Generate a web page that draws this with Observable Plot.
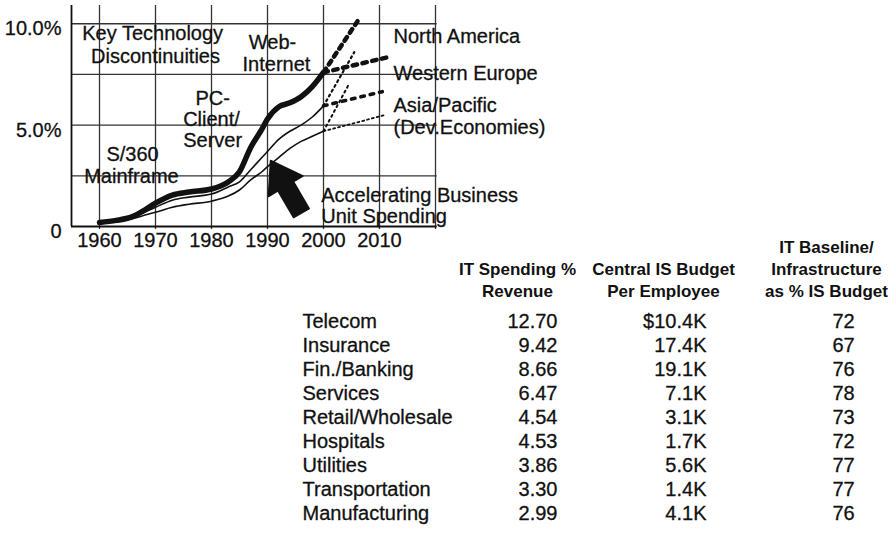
<!DOCTYPE html>
<html><head><meta charset="utf-8">
<script src="https://cdn.jsdelivr.net/npm/d3@7"></script>
<script src="https://cdn.jsdelivr.net/npm/@observablehq/plot@0.6"></script>
<style>
html,body{margin:0;padding:0;background:#fff;}
#wrap{position:relative;width:896px;height:540px;overflow:hidden;font-family:"Liberation Sans",Arial,sans-serif;}
#wrap svg{position:absolute;left:0;top:0;overflow:visible;background:transparent;}
</style></head><body><div id="wrap"></div>
<script>
// ---- line chart data (IT spending % of revenue) ----
const years     = [1960,1963,1966,1968,1970,1973,1976,1980,1983,1985,1987,1989,1990,1992,1994,1996,1998,2000];
const topSeries = [0.2,0.3,0.5,0.8,1.15,1.55,1.7,1.85,2.2,2.7,3.9,4.8,5.3,5.9,6.1,6.4,6.9,7.6];
const midSeries = [0.2,0.28,0.45,0.7,0.95,1.3,1.45,1.6,1.95,2.2,2.8,3.4,3.7,4.3,4.7,5.0,5.4,5.95];
const lowSeries = [0.2,0.26,0.4,0.55,0.7,0.95,1.1,1.25,1.5,1.8,2.3,2.7,2.95,3.4,3.85,4.2,4.45,4.7];

// projections 2000 -> ~2010
const naHigh = [[2000,7.6],[2006.5,10.3]];
const naLow  = [[2000,7.6],[2011.5,8.35]];
const weHigh = [[2000,5.95],[2005.5,8.6]];
const weLow  = [[2000,5.95],[2010.5,6.65]];
const apHigh = [[2000,4.7],[2004.5,7.0]];
const apLow  = [[2000,4.7],[2011,5.5]];

// axes
const xTicks = [1960,1970,1980,1990,2000,2010];
const vGrid  = [1960,1970,1980,1990,2000,2010,2020];
const hGrid  = [2.5,5,7.5,10];
const yTicks = [0,5,10];
const yTickLabels = ["0","5.0%","10.0%"];

// annotations (year, percent)
const centerLabels = [
  {label:"Key Technology", year:1969.5, pct:9.52},
  {label:"Discontinuities", year:1970.0, pct:8.38},
  {label:"Web-", year:1990.9, pct:9.05},
  {label:"Internet", year:1991.6, pct:7.99},
  {label:"PC-", year:1980.2, pct:6.33},
  {label:"Client/", year:1980.0, pct:5.28},
  {label:"Server", year:1980.2, pct:4.22},
  {label:"S/360", year:1965.9, pct:3.53},
  {label:"Mainframe", year:1965.7, pct:2.47}
];
const leftLabels = [
  {label:"North America", year:2012.5, pct:9.37},
  {label:"Western Europe", year:2012.5, pct:7.55},
  {label:"Asia/Pacific", year:2012.5, pct:5.95},
  {label:"(Dev.Economies)", year:2012.5, pct:4.88},
  {label:"Accelerating Business", year:1999.6, pct:1.54},
  {label:"Unit Spending", year:1999.6, pct:0.49}
];
const arrowShape = [[1990.54,3.255],[1996.32,2.49],[1994.64,2.21],[1997.45,0.88],[1994.66,0.44],[1991.86,1.76],[1990.16,1.48],[1990.54,3.255]];

// ---- table data ----
const industries = ["Telecom","Insurance","Fin./Banking","Services","Retail/Wholesale","Hospitals","Utilities","Transportation","Manufacturing"];
const itSpendPct = [12.70,9.42,8.66,6.47,4.54,4.53,3.86,3.30,2.99];
const budgetPerEmployee = [10.4,17.4,19.1,7.1,3.1,1.7,5.6,1.4,4.1];
const infraPct = [72,67,76,78,73,72,77,77,76];
const headers = ["IT Spending %\nRevenue","Central IS Budget\nPer Employee","IT Baseline/\nInfrastructure\nas % IS Budget"];

const FONT = "'Liberation Sans', Arial, Helvetica, sans-serif";
const ink = "#111";
const heavy = {fill: ink, stroke: ink, strokeWidth: 0.3};
const toPts = (arr) => arr.map(([x,y]) => ({x,y}));
const series = (vals) => years.map((y,i) => ({x:y, y:vals[i]}));

const chart = Plot.plot({
  width: 896, height: 270,
  marginLeft: 71, marginRight: 461, marginTop: 5, marginBottom: 44,
  x: {domain:[1955,2020], axis:null},
  y: {domain:[0,10.9], axis:null},
  style: {fontFamily: FONT, fontSize: "20px", color: ink, background: "transparent", overflow: "visible"},
  marks: [
    Plot.ruleY(hGrid, {y: d=>d, x1: 1955, x2: 2020.3, stroke: "#333", strokeWidth: 1.3}),
    Plot.ruleX(vGrid, {x: d=>d, y1: -0.15, y2: 10.9, stroke: "#333", strokeWidth: 1.3}),
    Plot.ruleX([1955], {x: d=>d, y1: 0, y2: 10.9, stroke: ink, strokeWidth: 1.8}),
    Plot.ruleY([0], {y: d=>d, x1: 1955, x2: 2020.3, stroke: ink, strokeWidth: 1.8}),
    Plot.line(series(lowSeries), {x:"x", y:"y", stroke: ink, strokeWidth: 1.6, curve: "monotone-x"}),
    Plot.line(series(midSeries), {x:"x", y:"y", stroke: ink, strokeWidth: 1.6, curve: "monotone-x"}),
    Plot.line(series(topSeries), {x:"x", y:"y", stroke: ink, strokeWidth: 5.5, curve: "monotone-x"}),
    Plot.line(toPts(naHigh), {x:"x", y:"y", stroke: ink, strokeWidth: 4.5, strokeDasharray: "4.5 5"}),
    Plot.line(toPts(naLow),  {x:"x", y:"y", stroke: ink, strokeWidth: 4.5, strokeDasharray: "4.5 5.5"}),
    Plot.line(toPts(weHigh), {x:"x", y:"y", stroke: ink, strokeWidth: 2.2, strokeDasharray: "2 3.5"}),
    Plot.line(toPts(weLow),  {x:"x", y:"y", stroke: ink, strokeWidth: 3.6, strokeDasharray: "3.6 6"}),
    Plot.line(toPts(apHigh), {x:"x", y:"y", stroke: ink, strokeWidth: 2, strokeDasharray: "2 3.5"}),
    Plot.line(toPts(apLow),  {x:"x", y:"y", stroke: ink, strokeWidth: 1.8, strokeDasharray: "2 3"}),
    Plot.line(toPts(arrowShape), {x:"x", y:"y", fill: ink, stroke: ink, strokeWidth: 1.5, strokeLinejoin: "round"}),
    Plot.text(yTicks, {x: 1955, y: d=>d, text: (d,i)=>yTickLabels[i], textAnchor: "end", dx: -10, dy: 5, fontSize: 20, ...heavy}),
    Plot.text(xTicks, {x: d=>d, frameAnchor: "bottom", text: d=>String(d), dy: 20, fontSize: 20, ...heavy}),
    Plot.text(centerLabels, {x:"year", y:"pct", text:"label", fontSize: 20, ...heavy}),
    Plot.text(leftLabels, {x:"year", y:"pct", text:"label", textAnchor: "start", fontSize: 20, ...heavy})
  ]
});

const rows = industries.map((name,i) => ({name, rev: itSpendPct[i], bud: budgetPerEmployee[i], inf: infraPct[i], i}));
const headerRows = headers.map((h,i) => ({h, i}));
const headerX = [517, 663, 826];

const table = Plot.plot({
  width: 896, height: 540, margin: 0,
  y: {type: "point", domain: industries, range: [306, 528], axis: null},
  style: {fontFamily: FONT, color: ink, background: "transparent", overflow: "visible"},
  marks: [
    Plot.text(rows, {y:"name", text:"name", frameAnchor:"left", dx: 302, textAnchor:"start", fontSize: 20, ...heavy}),
    Plot.text(rows, {y:"name", text: d=>d.rev.toFixed(2), frameAnchor:"left", dx: 557, textAnchor:"end", fontSize: 20, ...heavy}),
    Plot.text(rows, {y:"name", text: d=>(d.i===0?"$":"")+d.bud.toFixed(1)+"K", frameAnchor:"left", dx: 706, textAnchor:"end", fontSize: 20, ...heavy}),
    Plot.text(rows, {y:"name", text: d=>String(d.inf), frameAnchor:"left", dx: 843, textAnchor:"middle", fontSize: 20, ...heavy}),
    ...headerRows.map(({h,i}) => Plot.text([h], {y: () => industries[0], text: d=>d, frameAnchor:"left", dx: headerX[i], dy: -25, textAnchor:"middle", lineAnchor:"bottom", lineHeight: 1.27, fontSize: 17, fontWeight: "bold", fill: ink}))
  ]
});

const wrap = document.getElementById("wrap");
wrap.appendChild(chart);
wrap.appendChild(table);
</script>
</body></html>
